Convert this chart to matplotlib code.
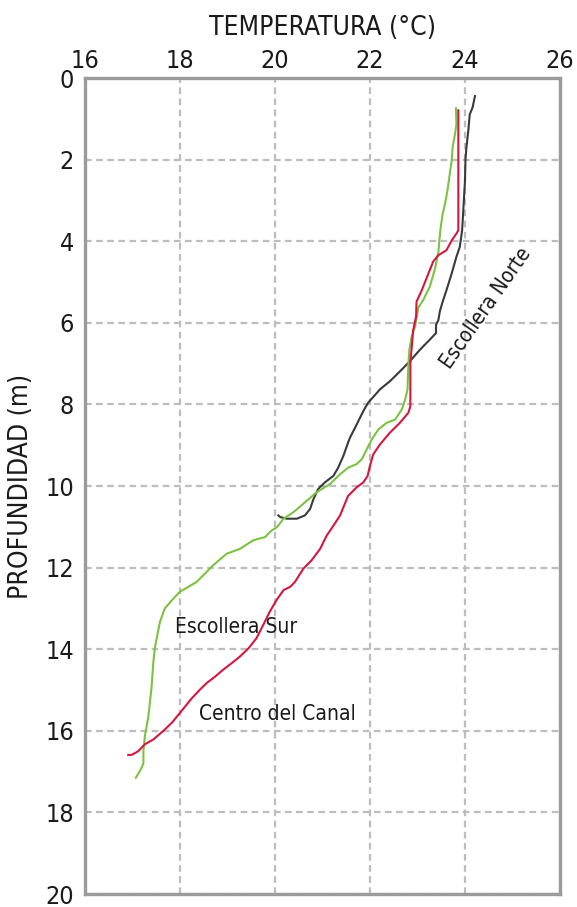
import matplotlib
matplotlib.use("Agg")
import matplotlib.pyplot as plt
from matplotlib import font_manager

# Escollera Norte (temperature, depth)
norte_temp = [24.21, 24.16, 24.10, 24.07, 24.03, 24.01, 24.00, 23.98, 23.96, 23.94,
              23.89, 23.82, 23.72, 23.61, 23.53, 23.47, 23.44, 23.39, 23.39, 23.26,
              23.05, 22.84, 22.63, 22.42, 22.21, 21.96, 21.86, 21.72, 21.58, 21.54,
              21.44, 21.33, 21.23, 21.05, 20.91, 20.81, 20.74, 20.63, 20.46, 20.25,
              20.11, 20.07]
norte_depth = [0.44, 0.72, 0.89, 1.29, 1.70, 2.00, 2.51, 2.92, 3.33, 3.73,
               4.14, 4.38, 4.79, 5.20, 5.48, 5.72, 5.93, 6.05, 6.25, 6.41,
               6.66, 6.94, 7.19, 7.43, 7.63, 7.96, 8.16, 8.49, 8.81, 8.93,
               9.26, 9.55, 9.75, 9.91, 10.07, 10.32, 10.56, 10.72, 10.80, 10.80,
               10.76, 10.72]

# Centro del Canal
canal_temp = [23.86, 23.86, 23.82, 23.72, 23.61, 23.44, 23.33, 23.23, 23.09, 22.98,
              22.97, 22.91, 22.88, 22.85, 22.85, 22.85, 22.81, 22.63, 22.42, 22.21,
              22.07, 22.00, 21.95, 21.86, 21.72, 21.54, 21.44, 21.37, 21.23, 21.09,
              20.95, 20.77, 20.60, 20.42, 20.32, 20.18, 20.04, 19.89, 19.75, 19.61,
              19.44, 19.26, 19.09, 18.91, 18.74, 18.56, 18.42, 18.25, 18.11, 18.00,
              17.83, 17.65, 17.44, 17.26, 17.12, 16.98, 16.91]
canal_depth = [0.79, 3.73, 3.81, 3.98, 4.22, 4.34, 4.50, 4.79, 5.20, 5.48,
               5.85, 6.17, 6.58, 6.98, 7.88, 8.04, 8.20, 8.45, 8.69, 8.98,
               9.22, 9.50, 9.75, 9.91, 10.03, 10.24, 10.52, 10.72, 10.97, 11.21,
               11.54, 11.82, 12.02, 12.35, 12.47, 12.55, 12.78, 13.08, 13.41, 13.73,
               13.98, 14.18, 14.34, 14.50, 14.67, 14.83, 14.99, 15.20, 15.40, 15.56,
               15.80, 16.00, 16.21, 16.33, 16.50, 16.59, 16.59]

# Escollera Sur
sur_temp = [23.81, 23.82, 23.79, 23.74, 23.72, 23.68, 23.63, 23.58, 23.53, 23.49,
            23.46, 23.44, 23.37, 23.26, 23.12, 23.02, 22.95, 22.88, 22.83, 22.81,
            22.79, 22.74, 22.67, 22.53, 22.35, 22.18, 22.04, 21.93, 21.83, 21.72,
            21.54, 21.37, 21.16, 20.88, 20.63, 20.39, 20.18, 20.04, 19.93, 19.79,
            19.54, 19.26, 18.98, 18.70, 18.35, 18.00, 17.86, 17.68, 17.58, 17.51,
            17.47, 17.44, 17.40, 17.35, 17.33, 17.26, 17.23, 17.23, 17.16, 17.07]
sur_depth = [0.74, 1.13, 1.37, 1.70, 2.02, 2.35, 2.76, 3.08, 3.33, 3.65,
             3.98, 4.26, 4.67, 5.11, 5.44, 5.62, 6.09, 6.33, 6.66, 6.98,
             7.63, 7.88, 8.12, 8.37, 8.45, 8.61, 8.85, 9.10, 9.34, 9.46,
             9.55, 9.71, 9.95, 10.15, 10.40, 10.64, 10.80, 11.01, 11.09, 11.25,
             11.33, 11.54, 11.66, 11.94, 12.35, 12.59, 12.76, 13.00, 13.32, 13.73,
             13.98, 14.30, 14.95, 15.48, 15.68, 16.13, 16.50, 16.80, 16.98, 17.15]

x_ticks = [16, 18, 20, 22, 24, 26]
y_ticks = [0, 2, 4, 6, 8, 10, 12, 14, 16, 18, 20]

# pick a condensed font if one is around
names = {f.name for f in font_manager.fontManager.ttflist}
if "Liberation Sans Narrow" in names:
    font = {"family": "Liberation Sans Narrow"}
else:
    font = {"family": "DejaVu Sans", "stretch": "condensed"}
plt.rcParams["font.family"] = font["family"]
if "stretch" in font:
    plt.rcParams["font.stretch"] = font["stretch"]

fig = plt.figure(figsize=(5.77, 9.07), dpi=100)
ax = fig.add_axes([0.1473, 0.0143, 0.8232, 0.8996])

ax.plot(norte_temp, norte_depth, color="#3a3a3a", lw=1.5)
ax.plot(sur_temp, sur_depth, color="#7cc242", lw=1.5)
ax.plot(canal_temp, canal_depth, color="#d5173f", lw=1.5)

ax.set_xlim(16, 26)
ax.set_ylim(20, 0)
ax.set_xticks(x_ticks)
ax.set_yticks(y_ticks)
ax.xaxis.tick_top()
ax.xaxis.set_label_position("top")
ax.tick_params(length=0, labelsize=18, colors="#1a1a1a")
ax.tick_params(axis="x", pad=4)
ax.tick_params(axis="y", pad=8)

ax.grid(True, color="#bdbdbd", lw=1.6, linestyle=(0, (3, 2)))
ax.set_axisbelow(True)
for s in ax.spines.values():
    s.set_color("#9b9b9b")
    s.set_linewidth(2.4)

ax.set_xlabel("TEMPERATURA (°C)", fontsize=19, color="#1a1a1a", labelpad=10)
ax.set_ylabel("PROFUNDIDAD (m)", fontsize=19, color="#1a1a1a", labelpad=8)

ax.text(24.45, 5.65, "Escollera Norte", rotation=55, fontsize=15,
        ha="center", va="center", color="#1a1a1a")
ax.text(19.18, 13.46, "Escollera Sur", fontsize=15,
        ha="center", va="center", color="#1a1a1a")
ax.text(20.04, 15.59, "Centro del Canal", fontsize=15,
        ha="center", va="center", color="#1a1a1a")

fig.savefig("out.png", dpi=100)
